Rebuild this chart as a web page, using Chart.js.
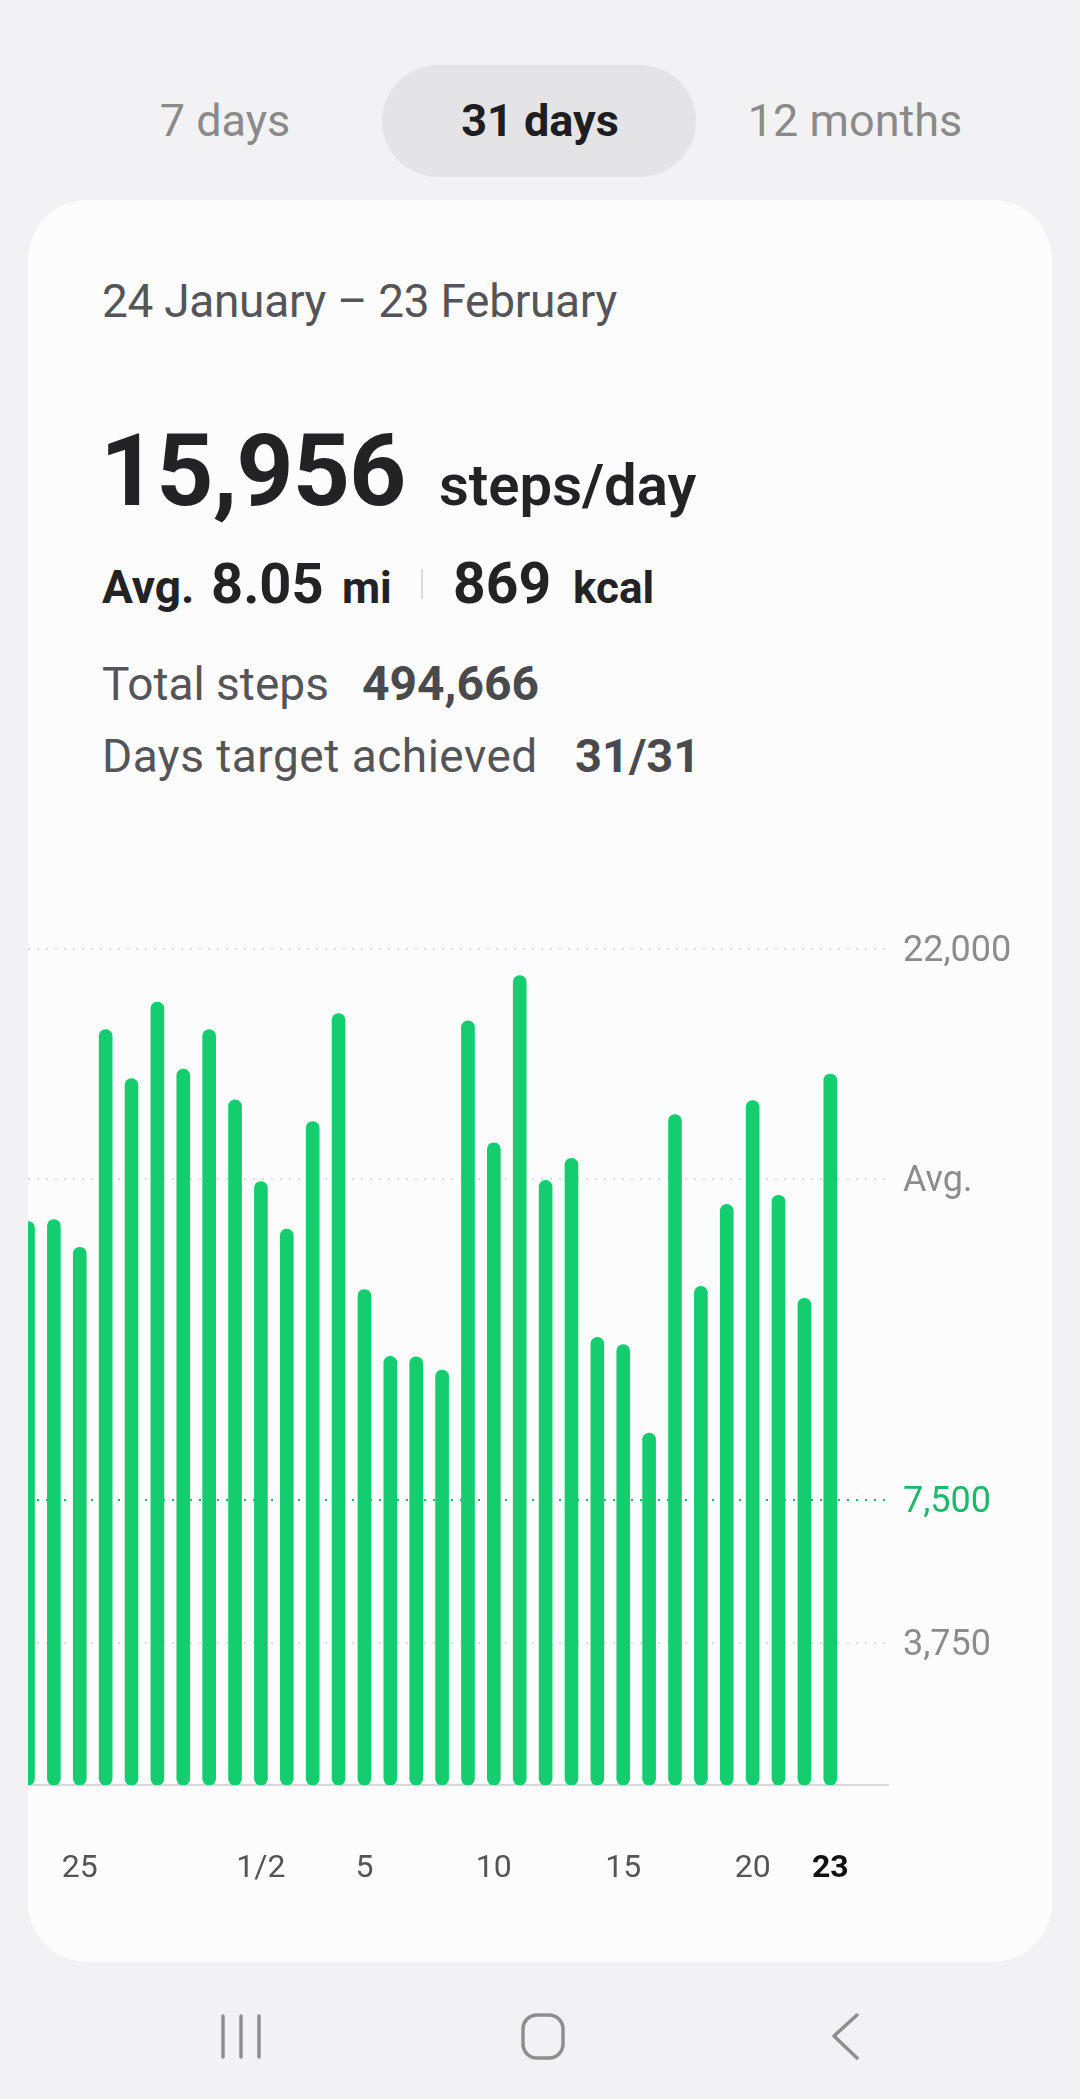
<!DOCTYPE html>
<html lang="en">
<head>
<meta charset="UTF-8">
<title>Steps - 31 days</title>
<script src="https://cdn.jsdelivr.net/npm/chart.js"></script>
<style>
  html, body { margin: 0; padding: 0; }
  body { width: 1080px; height: 2099px; background: #f2f2f4; position: relative; overflow: hidden;
         font-family: Roboto, "Noto Sans", sans-serif; }
  .abs { position: absolute; line-height: 1; white-space: nowrap; }
  .tab { width: 314px; text-align: center; font-size: 45px; color: #8a8a8a; top: 98px; }
  .pill { position: absolute; left: 382px; top: 65px; width: 314px; height: 112px; border-radius: 56px; background: #e4e4e6; }
  .card { position: absolute; left: 28px; top: 200px; width: 1024px; height: 1762px; border-radius: 60px;
          background: #fcfcfd; overflow: hidden; }
  .grey { color: #555558; }
  .dark { color: #232325; }
</style>
</head>
<body>
  <div class="pill"></div>
  <div class="abs tab" style="left:68px">7 days</div>
  <div class="abs tab" style="left:383px; color:#1e1e20; font-weight:700">31 days</div>
  <div class="abs tab" style="left:698px">12 months</div>

  <div class="card">
    <canvas id="steps-chart" width="1024" height="1005" style="position:absolute; left:0; top:700px;"></canvas>
  </div>

  <!-- header text, page coordinates -->
  <div class="abs grey" style="left:102px; top:278px; font-size:46px; letter-spacing:-0.3px">24 January – 23 February</div>

  <div class="abs dark" style="left:100px; top:421px; font-size:100px; font-weight:700; letter-spacing:-1px">15,956</div>
  <div class="abs dark" style="left:439px; top:456px; font-size:58px; font-weight:600">steps/day</div>

  <div class="abs dark" style="left:102px; top:564px; font-size:46px; font-weight:700">Avg.</div>
  <div class="abs dark" style="left:211px; top:556px; font-size:56px; font-weight:700">8.05</div>
  <div class="abs dark" style="left:342px; top:566px; font-size:44px; font-weight:700">mi</div>
  <div style="position:absolute; left:421px; top:569px; width:2px; height:30px; background:#dcdcde"></div>
  <div class="abs dark" style="left:453px; top:555px; font-size:57px; font-weight:700">869</div>
  <div class="abs dark" style="left:573px; top:566px; font-size:44px; font-weight:700">kcal</div>

  <div class="abs grey" style="left:102px; top:661px; font-size:46px">Total steps</div>
  <div class="abs" style="left:362px; top:660px; font-size:48px; font-weight:700; color:#4a4a4c">494,666</div>
  <div class="abs grey" style="left:102px; top:733px; font-size:46px; letter-spacing:0.5px">Days target achieved</div>
  <div class="abs" style="left:575px; top:732px; font-size:47px; font-weight:700; color:#4a4a4c">31/31</div>

  <!-- navigation bar -->
  <svg width="1080" height="120" style="position:absolute; left:0; top:1980px" fill="none" stroke="#8e8e90" stroke-width="3.5" stroke-linecap="round" stroke-linejoin="round">
    <line x1="223" y1="36" x2="223" y2="77"/>
    <line x1="241" y1="36" x2="241" y2="77"/>
    <line x1="259" y1="36" x2="259" y2="77"/>
    <rect x="523" y="35" width="40" height="43" rx="14"/>
    <polyline points="857,35 834,56 857,78"/>
  </svg>

<script>
// one bar per day; the first day is only half visible at the card edge
var days = ['23 Jan', '24 Jan', '25 Jan', '26 Jan', '27 Jan', '28 Jan', '29 Jan', '30 Jan', '31 Jan',
            '1 Feb', '2 Feb', '3 Feb', '4 Feb', '5 Feb', '6 Feb', '7 Feb', '8 Feb', '9 Feb', '10 Feb',
            '11 Feb', '12 Feb', '13 Feb', '14 Feb', '15 Feb', '16 Feb', '17 Feb', '18 Feb', '19 Feb',
            '20 Feb', '21 Feb', '22 Feb', '23 Feb'];
var steps = [14830, 14880, 14150, 19880, 18590, 20600, 18840, 19880, 18030,
             15880, 14630, 17460, 20300, 13040, 11280, 11270, 10920, 20110, 16900,
             21300, 15910, 16490, 11780, 11590, 9260, 17640, 13120, 15280,
             18010, 15520, 12810, 18710];

var xTickDays = ['25 Jan', '1 Feb', '5 Feb', '10 Feb', '15 Feb', '20 Feb', '23 Feb'];
var xTickLabels = ['25', '1/2', '5', '10', '15', '20', '23'];

var avgSteps = 15956;
var goalSteps = 7500;
var yMax = 22000;
var yTickValues = [3750, goalSteps, avgSteps, yMax];
var yTickLabels = ['3,750', '7,500', 'Avg.', '22,000'];

var green = '#14cd6e';
var goalGreen = '#1fb86a';
var font = 'Roboto, "Noto Sans", sans-serif';

var points = steps.map(function (v, i) { return { x: i, y: v }; });

new Chart(document.getElementById('steps-chart').getContext('2d'), {
    type: 'bar',
    data: {
        datasets: [{
            data: points,
            backgroundColor: green,
            barThickness: 13,
            borderRadius: 7,
            borderSkipped: false
        }]
    },
    options: {
        responsive: false,
        animation: false,
        devicePixelRatio: 1,
        layout: { autoPadding: false, padding: { top: 49, left: 0, right: 0, bottom: 0 } },
        plugins: { legend: { display: false }, tooltip: { enabled: false } },
        scales: {
            x: {
                type: 'linear',
                offset: false,
                min: 0,
                max: 33.23,
                afterBuildTicks: function (scale) {
                    scale.ticks = xTickDays.map(function (d) { return { value: days.indexOf(d) }; });
                },
                afterFit: function (scale) {
                    scale.height = 120;
                    scale.paddingLeft = 0;
                    scale.paddingRight = 0;
                },
                grid: { display: false, drawTicks: false, offset: false },
                border: { display: true, color: '#d8d8da', width: 2 },
                ticks: {
                    autoSkip: false,
                    maxRotation: 0,
                    padding: 65,
                    callback: function (value, index) { return xTickLabels[index]; },
                    color: function (ctx) { return ctx.index === xTickLabels.length - 1 ? '#111' : '#555558'; },
                    font: function (ctx) {
                        return { family: font, size: 32, weight: ctx.index === xTickLabels.length - 1 ? 'bold' : 'normal' };
                    }
                }
            },
            y: {
                position: 'right',
                min: 0,
                max: yMax,
                afterBuildTicks: function (scale) {
                    scale.ticks = yTickValues.map(function (v) { return { value: v }; });
                },
                afterFit: function (scale) {
                    scale.width = 164;
                    scale.paddingTop = 0;
                    scale.paddingBottom = 0;
                },
                grid: {
                    drawTicks: false,
                    lineWidth: 2,
                    color: function (ctx) { return ctx.tick && ctx.tick.value === goalSteps ? goalGreen : '#dadadc'; }
                },
                border: { display: false, dash: [2, 7] },
                ticks: {
                    padding: 15,
                    labelOffset: 3,
                    callback: function (value, index) { return yTickLabels[index]; },
                    color: function (ctx) { return ctx.tick && ctx.tick.value === goalSteps ? goalGreen : '#8c8c8e'; },
                    font: { family: font, size: 36 }
                }
            }
        }
    }
});
</script>
</body>
</html>
